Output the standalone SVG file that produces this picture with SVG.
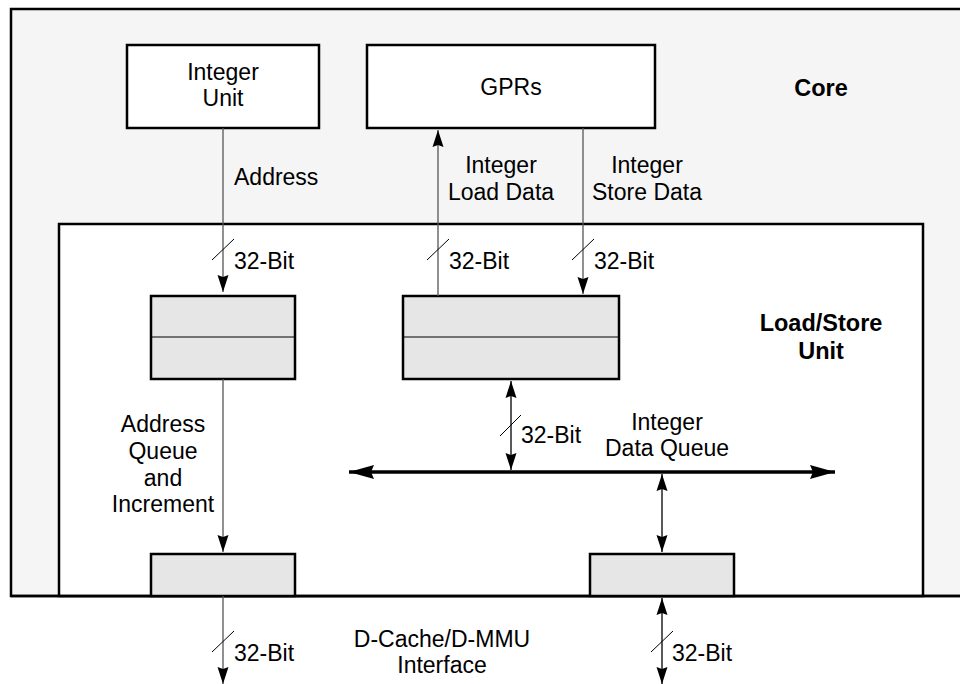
<svg xmlns="http://www.w3.org/2000/svg" width="960" height="684" viewBox="0 0 960 684">
<style>
text{font-family:"Liberation Sans",Arial,sans-serif;font-size:23px;fill:#000}
.b{font-weight:bold;font-size:23.5px}
.m{text-anchor:middle}
.box{fill:#fff;stroke:#000;stroke-width:2.5}
.q{fill:#e6e6e6;stroke:#000;stroke-width:2.5}
.thin{stroke:#555;stroke-width:1.3;fill:none}
.bi{stroke:#000;stroke-width:1.3;fill:none}
.sl{stroke:#000;stroke-width:1;fill:none}
.edge{stroke:#000;stroke-width:2.5;fill:none}
</style>
<defs>
<marker id="ah" markerUnits="userSpaceOnUse" markerWidth="18" markerHeight="12" refX="17" refY="6" orient="auto-start-reverse">
<path d="M0,0.5 L17,6 L0,11.5 L2,6 z" fill="#000"/>
</marker>
<marker id="bh" markerUnits="userSpaceOnUse" markerWidth="26" markerHeight="16" refX="25" refY="8" orient="auto-start-reverse">
<path d="M0,1 L25,8 L0,15 L3,8 z" fill="#000"/>
</marker>
</defs>
<rect width="960" height="684" fill="#fff"/>
<g id="core">
<rect x="11" y="9" width="960" height="587" fill="#f5f5f5"/>
<path class="edge" d="M960,9 H11 V596 H960"/>
<text class="b m" x="821" y="96">Core</text>
</g>
<g id="lsu">
<rect x="59" y="224" width="864" height="372" fill="#fff" stroke="#000" stroke-width="2.5"/>
<path class="edge" d="M11,596 H960"/>
<text class="b m" x="821" y="331">Load/Store</text>
<text class="b m" x="821" y="359">Unit</text>
</g>
<g id="integer-unit">
<rect class="box" x="127" y="45" width="192" height="83"/>
<text class="m" x="223" y="80">Integer</text>
<text class="m" x="223" y="106">Unit</text>
</g>
<g id="gprs">
<rect class="box" x="367" y="45" width="288" height="83"/>
<text class="m" x="511" y="95">GPRs</text>
</g>
<g id="address-queue">
<rect class="q" x="151" y="296" width="144" height="83"/>
<line x1="151" y1="337" x2="295" y2="337" stroke="#000" stroke-width="1"/>
</g>
<g id="data-queue">
<rect class="q" x="403" y="296" width="216" height="83"/>
<line x1="403" y1="337" x2="619" y2="337" stroke="#000" stroke-width="1"/>
</g>
<g id="address-out">
<rect class="q" x="151" y="554" width="144" height="42"/>
</g>
<g id="data-out">
<rect class="q" x="590" y="554" width="144" height="42"/>
</g>
<g id="connectors">
<line class="thin" x1="223" y1="128" x2="223" y2="292" marker-end="url(#ah)"/>
<line class="sl" x1="212" y1="260" x2="234" y2="239"/>
<line class="thin" x1="438" y1="296" x2="438" y2="130" marker-end="url(#ah)"/>
<line class="sl" x1="427" y1="260" x2="449" y2="239"/>
<line class="thin" x1="583" y1="128" x2="583" y2="294" marker-end="url(#ah)"/>
<line class="sl" x1="572" y1="260" x2="594" y2="239"/>
<line class="thin" x1="223" y1="379" x2="223" y2="552" marker-end="url(#ah)"/>
<line x1="349" y1="472" x2="835" y2="472" stroke="#000" stroke-width="3.5" marker-start="url(#bh)" marker-end="url(#bh)"/>
<line class="bi" x1="511" y1="381" x2="511" y2="470" marker-start="url(#ah)" marker-end="url(#ah)"/>
<line class="sl" x1="500" y1="436" x2="521" y2="415"/>
<line class="bi" x1="662" y1="474" x2="662" y2="552" marker-start="url(#ah)" marker-end="url(#ah)"/>
<line class="thin" x1="223" y1="596" x2="223" y2="684" marker-end="url(#ah)"/>
<line class="sl" x1="212" y1="652" x2="234" y2="631"/>
<line class="bi" x1="662" y1="598" x2="662" y2="684" marker-start="url(#ah)" marker-end="url(#ah)"/>
<line class="sl" x1="651" y1="652" x2="673" y2="631"/>
</g>
<g id="labels">
<text x="234" y="185">Address</text>
<text class="m" x="501" y="173">Integer</text>
<text class="m" x="501" y="200">Load Data</text>
<text class="m" x="647" y="173">Integer</text>
<text class="m" x="647" y="200">Store Data</text>
<text x="234" y="269">32-Bit</text>
<text x="449" y="269">32-Bit</text>
<text x="594" y="269">32-Bit</text>
<text class="m" x="163" y="432">Address</text>
<text class="m" x="163" y="459">Queue</text>
<text class="m" x="163" y="486">and</text>
<text class="m" x="163" y="512">Increment</text>
<text x="521" y="443">32-Bit</text>
<text class="m" x="667" y="430">Integer</text>
<text class="m" x="667" y="456">Data Queue</text>
<text class="m" x="442" y="647">D-Cache/D-MMU</text>
<text class="m" x="442" y="673">Interface</text>
<text x="234" y="661">32-Bit</text>
<text x="672" y="661">32-Bit</text>
</g>
</svg>
